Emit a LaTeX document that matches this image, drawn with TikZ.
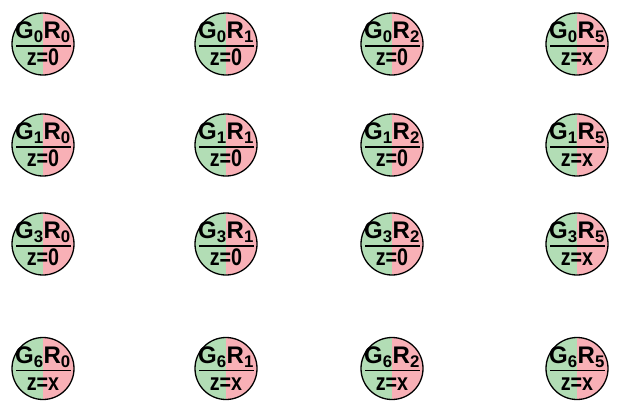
\documentclass[tikz,border=0pt]{standalone}
\usepackage{fontspec}
\setmainfont{Liberation Sans}
\usepackage{tikz}
\usetikzlibrary{positioning}
\usepackage{xcolor}
\definecolor{gfill}{RGB}{178,221,181}
\definecolor{rfill}{RGB}{248,176,182}

\begin{document}
\begin{tikzpicture}[
  x=1pt,y=-1pt,
  every node/.style={circle,draw,line width=1.3pt,minimum size=62pt,inner sep=-6pt,align=center,
    font=\bfseries\fontsize{24}{27}\selectfont,
    path picture={
      \fill[gfill] (path picture bounding box.south west) rectangle (path picture bounding box.north);
      \fill[rfill] (path picture bounding box.south) rectangle (path picture bounding box.north east);
      \draw[line width=1.7pt] ([xshift=-27pt,yshift=-2pt]path picture bounding box.center) -- ([xshift=28pt,yshift=-2pt]path picture bounding box.center);
    }}
]
  \useasboundingbox (0,0) rectangle (637,402);
  % row G0
  \node (g0r0) at (43,44) {G\textsubscript{0}R\textsubscript{0}\\\scalebox{0.82}[1]{z=0}};
  \node (g0r1) at (226,44) {G\textsubscript{0}R\textsubscript{1}\\\scalebox{0.82}[1]{z=0}};
  \node (g0r2) at (392,44) {G\textsubscript{0}R\textsubscript{2}\\\scalebox{0.82}[1]{z=0}};
  \node (g0r5) at (577,44) {G\textsubscript{0}R\textsubscript{5}\\\scalebox{0.82}[1]{z=x}};
  % row G1
  \node (g1r0) at (43,145) {G\textsubscript{1}R\textsubscript{0}\\\scalebox{0.82}[1]{z=0}};
  \node (g1r1) at (226,145) {G\textsubscript{1}R\textsubscript{1}\\\scalebox{0.82}[1]{z=0}};
  \node (g1r2) at (392,145) {G\textsubscript{1}R\textsubscript{2}\\\scalebox{0.82}[1]{z=0}};
  \node (g1r5) at (577,145) {G\textsubscript{1}R\textsubscript{5}\\\scalebox{0.82}[1]{z=x}};
  % row G3
  \node (g3r0) at (43,244) {G\textsubscript{3}R\textsubscript{0}\\\scalebox{0.82}[1]{z=0}};
  \node (g3r1) at (226,244) {G\textsubscript{3}R\textsubscript{1}\\\scalebox{0.82}[1]{z=0}};
  \node (g3r2) at (392,244) {G\textsubscript{3}R\textsubscript{2}\\\scalebox{0.82}[1]{z=0}};
  \node (g3r5) at (577,244) {G\textsubscript{3}R\textsubscript{5}\\\scalebox{0.82}[1]{z=x}};
  % row G6
  \node (g6r0) at (43,368.5) {G\textsubscript{6}R\textsubscript{0}\\\scalebox{0.82}[1]{z=x}};
  \node (g6r1) at (226,368.5) {G\textsubscript{6}R\textsubscript{1}\\\scalebox{0.82}[1]{z=x}};
  \node (g6r2) at (392,368.5) {G\textsubscript{6}R\textsubscript{2}\\\scalebox{0.82}[1]{z=x}};
  \node (g6r5) at (577,368.5) {G\textsubscript{6}R\textsubscript{5}\\\scalebox{0.82}[1]{z=x}};
\end{tikzpicture}
\end{document}
